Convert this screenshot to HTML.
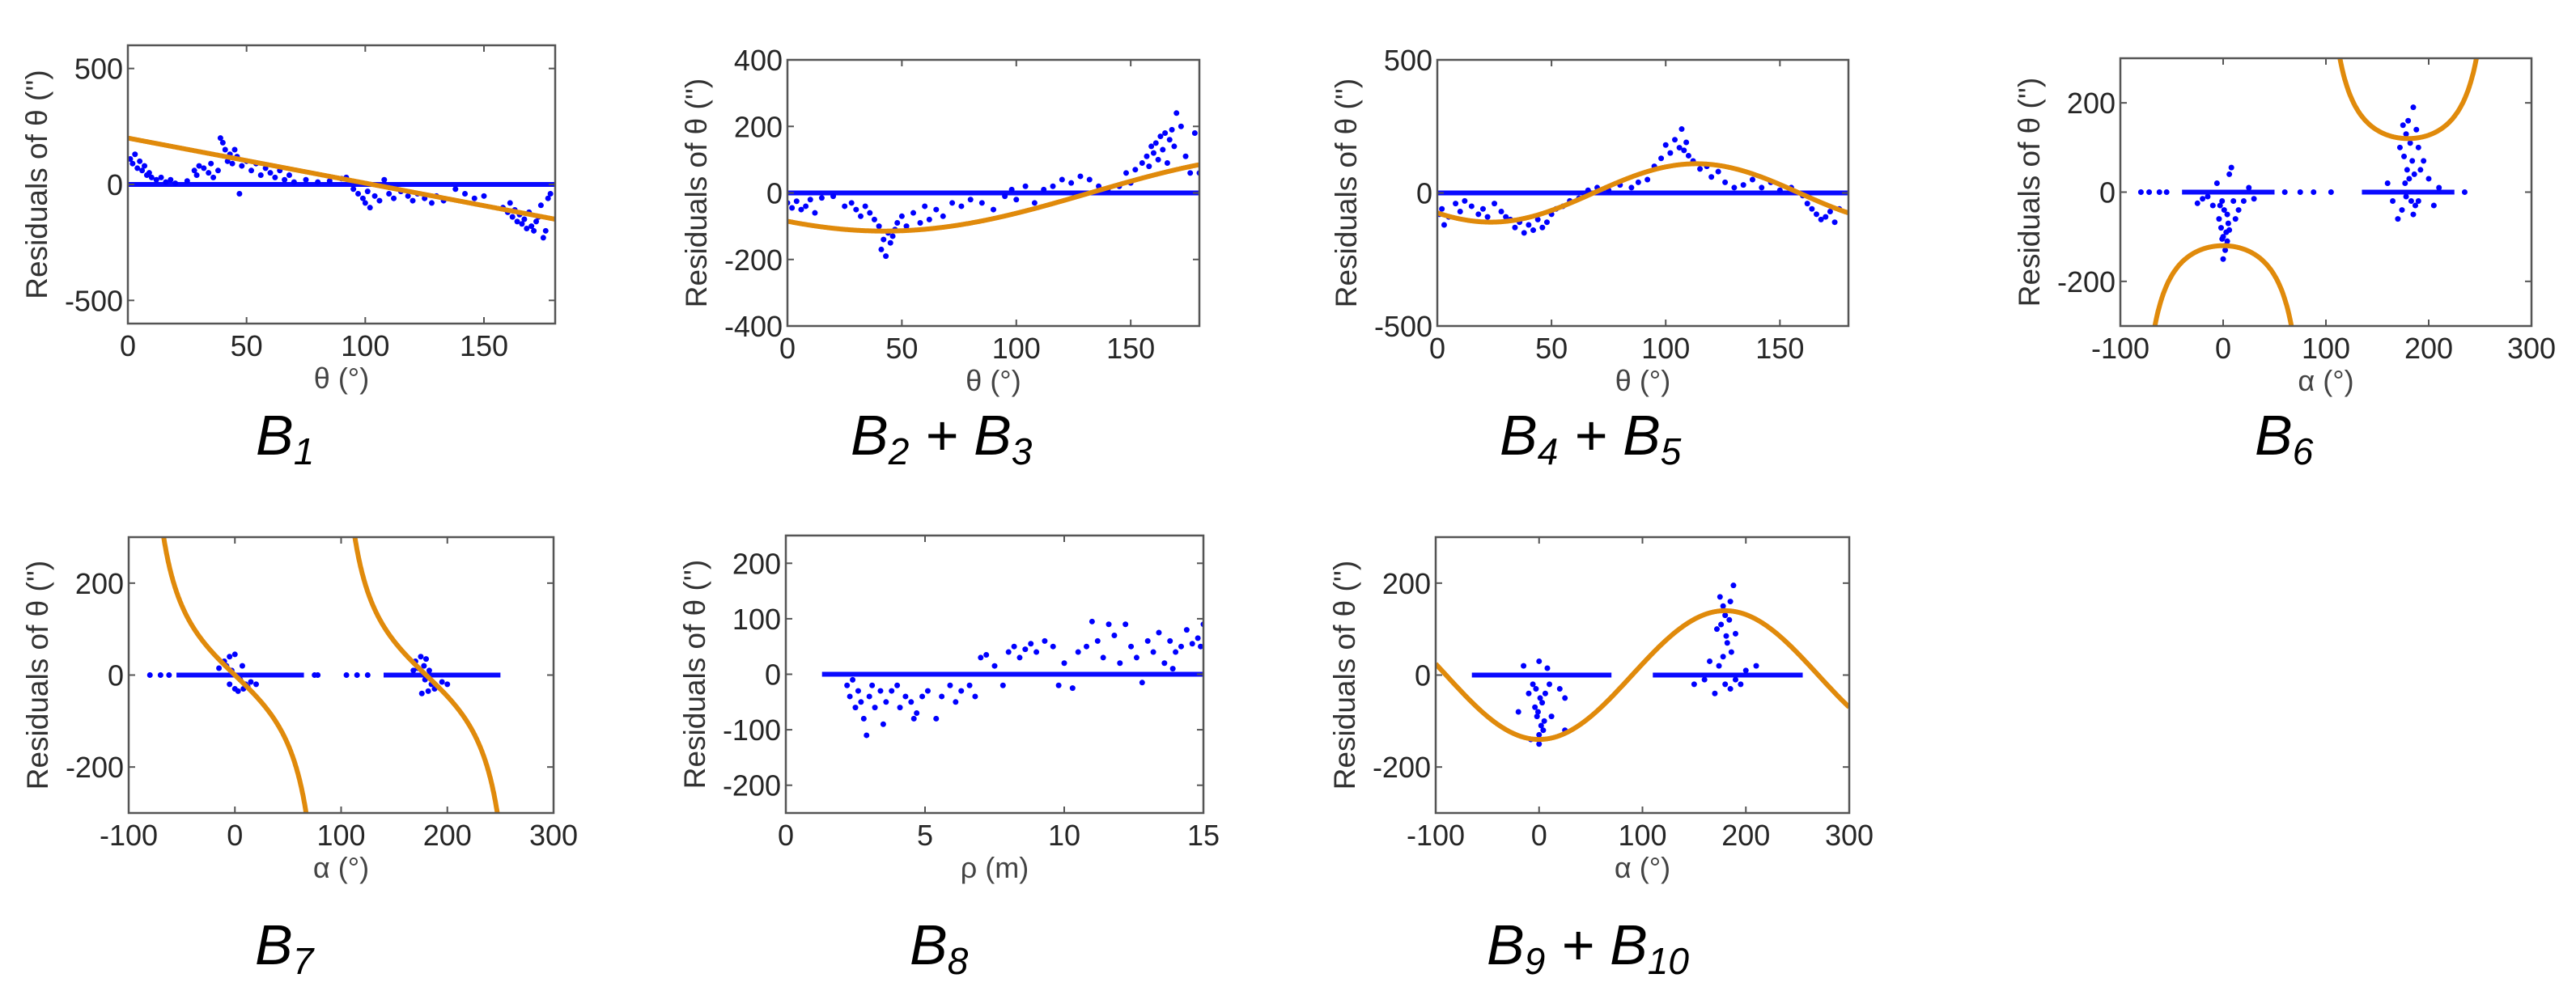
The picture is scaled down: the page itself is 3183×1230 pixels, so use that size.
<!DOCTYPE html>
<html><head><meta charset="utf-8"><style>
html,body{margin:0;padding:0;background:#fff;overflow:hidden;width:3183px;height:1230px;}
svg{display:block;font-family:"Liberation Sans",Arial,sans-serif;}
</style></head><body>
<svg id="fig" width="3183" height="1230" viewBox="0 0 3183 1230" xmlns="http://www.w3.org/2000/svg">
<rect width="3183" height="1230" fill="#fff"/>
</svg>
<script>
// ---- Panel B1 data ----
const p1x=[1,2,3,4,5,6,7,8,9,10,12,14,16,18,20,25,28,29,30,32,34,35,36,38,39,40,41,42,43,44,45,46,47,48,50,52,54,56,58,60,62,64,66,68,70,75,80,85,90,92,95,97,99,100,101,102,104,106,108,110,112,115,118,120,122,125,128,130,133,138,142,146,150,158,160,161,162,163,164,165,166,167,168,169,170,171,172,173,174,175,176,177,178];
const p1y=[110,90,130,70,100,60,80,40,50,30,20,30,10,20,5,15,60,40,80,70,50,90,30,60,200,180,150,100,130,90,150,120,-40,80,100,60,90,40,70,50,30,60,20,40,10,20,10,15,25,30,-20,-40,-60,-80,-30,-100,-50,-70,20,-40,-60,-30,-50,-70,-40,-60,-80,-50,-70,-20,-40,-60,-50,-100,-120,-80,-140,-110,-160,-130,-170,-150,-190,-120,-180,-200,-160,-140,-90,-230,-200,-60,-40];
const p1fit=[200,-1.944]; // intercept, slope
// ---- Panel B2+B3 data ----
const p2x=[0,2,4,6,8,10,12,15,20,25,28,30,32,34,36,38,40,41,42,43,44,45,46,47,48,50,52,55,58,60,62,65,68,72,76,80,85,90,95,98,100,104,108,112,116,120,124,128,132,136,140,145,148,150,152,155,157,158,159,160,161,162,163,164,165,166,167,168,169,170,172,174,176,178,180];
const p2y=[-30,-45,-25,-50,-40,-20,-60,-15,-10,-40,-30,-50,-70,-40,-60,-80,-100,-170,-140,-190,-120,-150,-130,-110,-90,-70,-100,-60,-90,-40,-80,-50,-70,-30,-40,-20,-30,-50,-10,10,-20,20,-30,10,20,40,30,50,40,20,10,20,60,30,70,90,110,80,140,120,150,100,170,130,180,90,160,190,140,240,200,110,60,180,60];
const p2fit=[-77,-85]; // a*sin(t)+b*cos(t)
// ---- Panel B4+B5 data ----
const p3x=[1,2,3,5,8,10,12,15,18,20,22,25,28,30,32,34,36,38,40,42,44,46,48,50,52,55,58,62,66,70,75,80,85,88,92,95,98,100,102,104,106,107,108,109,110,112,115,118,120,123,126,130,134,138,142,146,150,155,160,162,164,166,168,170,172,174,176];
const p3y=[-80,-60,-120,-90,-40,-70,-30,-50,-80,-60,-90,-40,-70,-90,-100,-130,-110,-150,-120,-140,-100,-130,-110,-80,-60,-50,-30,-20,10,20,10,30,20,40,50,100,130,180,150,200,170,240,160,190,140,120,90,100,60,80,40,20,30,50,20,40,10,20,-10,-40,-60,-80,-100,-90,-70,-110,-60];
const p3fit=[-80,-75]; // a*sin(2t)+b*cos(2t)
// ---- Panel B6 data ----
const p4x=[0,2,-2,4,-4,1,3,-3,5,-1,6,8,-6,10,-10,15,20,25,-20,-25,0,2,-1,4,6,12,30,-15,175,180,185,178,182,188,190,176,184,179,186,181,177,183,187,174,190,170,200,205,210,160,165,195,172,192,178,185,-80,-72,-62,-55,60,75,88,105,235];
const p4y=[-100,-120,-80,-110,-60,-40,-90,-30,-70,-20,40,55,20,-20,-30,-40,-20,10,-15,-25,-150,-130,-105,-50,-85,-60,-15,-10,150,160,190,130,110,140,100,80,70,50,40,30,20,-20,-30,-40,-20,-60,30,-30,10,20,-20,70,100,50,-10,-50,0,0,0,0,0,0,0,0,0];
const p4band=[[-40,50],[135,225]];
const p4fit=[-120]; // c/cos(a)
// ---- Panel B7 data ----
const p5x=[-10,-5,0,-8,5,8,10,3,-3,12,-15,15,20,-5,0,7,170,175,180,178,185,182,188,176,190,195,172,168,200,183,179,-80,-70,-62,75,78,105,115,125];
const p5y=[30,40,45,20,-10,-30,-20,-35,10,-25,15,-15,-20,-20,-30,20,30,40,35,20,-20,-35,-30,-40,-25,-15,15,10,-20,10,-10,0,0,0,0,0,0,0,0];
const p5band=[[-55,65],[140,250]];
const p5fit=[-127]; // k*tan(a)
// ---- Panel B8 data ----
const p6x=[2.2,2.3,2.4,2.5,2.6,2.7,2.8,2.9,3.0,3.1,3.2,3.4,3.5,3.6,3.8,4.0,4.1,4.3,4.5,4.6,4.7,4.9,5.1,5.4,5.6,5.9,6.1,6.3,6.6,6.8,7.0,7.2,7.5,7.8,8.0,8.2,8.4,8.6,8.8,9.0,9.3,9.6,9.8,10.0,10.3,10.5,10.8,11.0,11.2,11.4,11.6,11.8,12.0,12.2,12.4,12.6,12.8,13.0,13.2,13.4,13.6,13.8,14.0,14.2,14.4,14.6,14.8,15,14.9,13.9];
const p6y=[-20,-40,-10,-60,-30,-50,-80,-110,-40,-20,-60,-30,-90,-50,-30,-20,-60,-40,-50,-80,-70,-40,-30,-80,-40,-20,-50,-30,-20,-40,30,35,15,-20,40,50,30,45,55,40,60,50,-20,20,-25,40,50,95,60,30,90,70,20,90,50,30,-15,60,40,75,20,60,40,50,80,55,65,90,50,10];
const p6band=[[1.3,15]];
// ---- Panel B9+B10 data ----
const p7x=[0,2,-2,4,-4,1,3,-3,5,-1,0,6,-6,10,-10,20,25,-20,-15,0,8,25,-8,12,175,178,185,188,180,176,184,172,190,182,186,178,174,180,185,170,190,165,195,200,160,150,210,181];
const p7y=[-130,-110,-90,-120,-70,-50,-60,-30,-100,-80,-150,-40,-20,-20,-40,-30,-50,-80,20,30,15,-120,-140,-90,170,150,160,195,130,110,120,100,90,70,50,40,20,-20,-30,-40,-10,30,-20,10,-10,-20,20,85];
const p7band=[[-65,70],[110,255]];
const p7fit=[-140]; // A*cos(a)

const NS='http://www.w3.org/2000/svg';
const svg=document.getElementById('fig');
function mk(tag,attrs,parent){const e=document.createElementNS(NS,tag);for(const k in attrs)e.setAttribute(k,attrs[k]);(parent||svg).appendChild(e);return e;}
const rad=Math.PI/180;
const panels=[
 {id:'b1',L:158,R:686,T:56,B:400,xl:[0,180],yl:[-600,600],xt:[0,50,100,150],yt:[-500,0,500],xlab:'θ (°)',xs:p1x,ys:p1y,bands:[[0,180]],fit:t=>p1fit[0]+p1fit[1]*t,fd:[0,180],lab:['B','1'],lx:316,ly:562},
 {id:'b2b3',L:973,R:1482,T:74,B:403,xl:[0,180],yl:[-400,400],xt:[0,50,100,150],yt:[-400,-200,0,200,400],xlab:'θ (°)',xs:p2x,ys:p2y,bands:[[0,180]],fit:t=>p2fit[0]*Math.sin(t*rad)+p2fit[1]*Math.cos(t*rad),fd:[0,180],lab:['B','2',' + B','3'],lx:1051,ly:562},
 {id:'b4b5',L:1776,R:2284,T:74,B:403,xl:[0,180],yl:[-500,500],xt:[0,50,100,150],yt:[-500,0,500],xlab:'θ (°)',xs:p3x,ys:p3y,bands:[[0,180]],fit:t=>p3fit[0]*Math.sin(2*t*rad)+p3fit[1]*Math.cos(2*t*rad),fd:[0,180],lab:['B','4',' + B','5'],lx:1853,ly:562},
 {id:'b6',L:2620,R:3128,T:72,B:403,xl:[-100,300],yl:[-300,300],xt:[-100,0,100,200,300],yt:[-200,0,200],xlab:'α (°)',xs:p4x,ys:p4y,bands:p4band,fit:t=>p4fit[0]/Math.cos(t*rad),fd:[-89.9,269.9],lab:['B','6'],lx:2786,ly:562},
 {id:'b7',L:159,R:684,T:664,B:1005,xl:[-100,300],yl:[-300,300],xt:[-100,0,100,200,300],yt:[-200,0,200],xlab:'α (°)',xs:p5x,ys:p5y,bands:p5band,fit:t=>p5fit[0]*Math.tan(t*rad),fd:[-89.9,269.9],lab:['B','7'],lx:315,ly:1192},
 {id:'b8',L:971,R:1487,T:662,B:1005,xl:[0,15],yl:[-250,250],xt:[0,5,10,15],yt:[-200,-100,0,100,200],xlab:'ρ (m)',xs:p6x,ys:p6y,bands:p6band,fit:null,lab:['B','8'],lx:1124,ly:1192},
 {id:'b9b10',L:1774,R:2285,T:664,B:1005,xl:[-100,300],yl:[-300,300],xt:[-100,0,100,200,300],yt:[-200,0,200],xlab:'α (°)',xs:p7x,ys:p7y,bands:p7band,fit:t=>p7fit[0]*Math.cos(t*rad),fd:[-100,300],lab:['B','9',' + B','10'],lx:1837,ly:1192}
];
panels.forEach(p=>{
  const sx=v=>p.L+(v-p.xl[0])/(p.xl[1]-p.xl[0])*(p.R-p.L);
  const sy=v=>p.B-(v-p.yl[0])/(p.yl[1]-p.yl[0])*(p.B-p.T);
  const g=mk('g',{});
  
  
  const cp=mk('clipPath',{id:'clip-'+p.id},g);
  mk('rect',{x:p.L,y:p.T,width:p.R-p.L,height:p.B-p.T},cp);
  const plot=mk('g',{'clip-path':'url(#clip-'+p.id+')'},g);
  
  
  p.bands.forEach(b=>{
    const ln=mk('line',{x1:sx(b[0]),x2:sx(b[1]),y1:sy(0),y2:sy(0),stroke:'#0a0aff','stroke-width':6},plot);
    
    
  });
  p.xs.forEach((x,i)=>{
    const c=mk('circle',{cx:sx(x),cy:sy(p.ys[i]),r:3.5,fill:'#0000ff'},plot);
    
    
  });
  if(p.fit){
    let d='',prev=null;const n=900;
    for(let i=0;i<=n;i++){
      const t=p.fd[0]+(p.fd[1]-p.fd[0])*i/n;
      let v=p.fit(t);
      if(!isFinite(v)){prev=null;continue;}
      v=Math.max(-3000,Math.min(3000,v));
      const brk=prev!==null&&Math.abs(v-prev)>1500;
      d+=(prev===null||brk?'M':'L')+sx(t).toFixed(1)+','+sy(v).toFixed(1);
      prev=v;
    }
    const path=mk('path',{d:d,fill:'none',stroke:'#e08a0b','stroke-width':6,'stroke-linejoin':'round'},plot);
    
    
  }
  const fr=mk('rect',{x:p.L,y:p.T,width:p.R-p.L,height:p.B-p.T,fill:'none',stroke:'#555','stroke-width':2.5},g);
  
  
  p.xt.forEach(v=>{
    const x=sx(v);
    mk('line',{x1:x,x2:x,y1:p.B,y2:p.B-8,stroke:'#555','stroke-width':2},g);
    mk('line',{x1:x,x2:x,y1:p.T,y2:p.T+8,stroke:'#555','stroke-width':2},g);
    const t=mk('text',{x:x,y:p.B+40,'font-size':36,'text-anchor':'middle',fill:'#262626'},g);
    t.textContent=String(v);
    
    
  });
  p.yt.forEach(v=>{
    const y=sy(v);
    mk('line',{x1:p.L,x2:p.L+8,y1:y,y2:y,stroke:'#555','stroke-width':2},g);
    mk('line',{x1:p.R,x2:p.R-8,y1:y,y2:y,stroke:'#555','stroke-width':2},g);
    const t=mk('text',{x:p.L-6,y:y+13,'font-size':36,'text-anchor':'end',fill:'#262626'},g);
    t.textContent=String(v);
    
    
  });
  const xt=mk('text',{x:(p.L+p.R)/2,y:p.B+80,'font-size':36,'text-anchor':'middle',fill:'#444'},g);
  xt.textContent=p.xlab;
  
  
  const cy=(p.T+p.B)/2, cx=p.L-100;
  const yt=mk('text',{x:cx,y:cy,'font-size':37,'text-anchor':'middle',fill:'#333',transform:'rotate(-90 '+cx+' '+cy+')'},g);
  yt.textContent='Residuals of θ (\'\')';
  
  
  const lb=mk('text',{x:p.lx,y:p.ly,'font-size':70,'font-style':'italic',fill:'#000'},g);
  
  
  p.lab.forEach((s,i)=>{
    const ts=mk('tspan',{},lb);
    if(i%2===1){ts.setAttribute('font-size','46');ts.setAttribute('dy','12');}
    else if(i>0){ts.setAttribute('dy','-12');}
    ts.textContent=s;
  });
});
</script>
</body></html>
